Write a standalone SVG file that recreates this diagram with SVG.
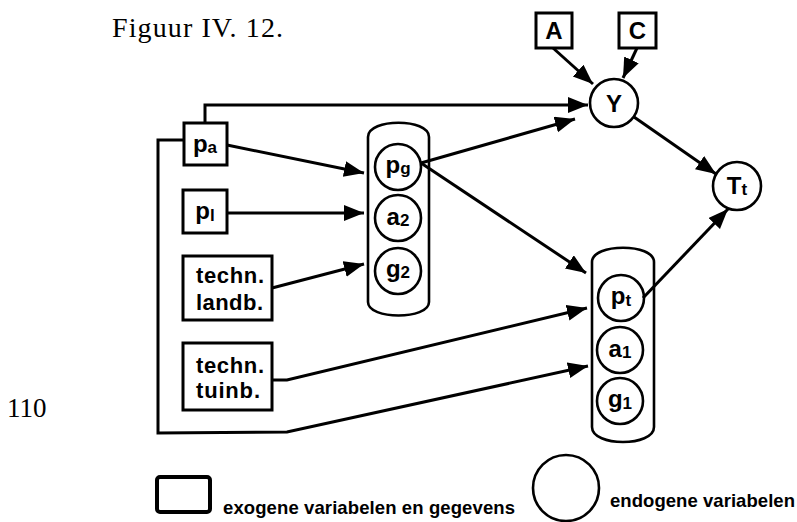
<svg xmlns="http://www.w3.org/2000/svg" width="797" height="522" viewBox="0 0 797 522">
<style>
.bx{fill:none;stroke:#000;stroke-width:3}
.ci{fill:none;stroke:#000;stroke-width:2.6}
.pill{fill:none;stroke:#000;stroke-width:2.6}
.ln{fill:none;stroke:#000;stroke-width:3;stroke-linejoin:miter}
.t{font-family:"Liberation Sans",Arial,sans-serif;font-weight:bold;fill:#000}
.lb{font-size:24px;text-anchor:middle}
.sub{font-size:17px}
.ser{font-family:"Liberation Serif","Times New Roman",serif;fill:#000}
</style>
<defs>
<marker id="ah" markerUnits="userSpaceOnUse" markerWidth="22" markerHeight="18" refX="20" refY="8" orient="auto">
<path d="M0,0 L20,8 L0,16 Z" fill="#000"/>
</marker>
</defs>
<rect width="797" height="522" fill="#fff"/>
<text class="ser" x="112" y="37" font-size="28" textLength="171">Figuur IV. 12.</text>
<text class="ser" x="7" y="417" font-size="27">110</text>

<g id="connectors">
<path class="ln" d="M205,123 L205,105 L588,105" marker-end="url(#ah)"/>
<path class="ln" d="M227,145 L364,173" marker-end="url(#ah)"/>
<path class="ln" d="M227,213 L364,213" marker-end="url(#ah)"/>
<path class="ln" d="M272,288 L364,264" marker-end="url(#ah)"/>
<path class="ln" d="M421,163 L575,119" marker-end="url(#ah)"/>
<path class="ln" d="M421,163 L586,273" marker-end="url(#ah)"/>
<path class="ln" d="M272,380 L287,380 L587,308" marker-end="url(#ah)"/>
<path class="ln" d="M184,140 L158,140 L158,433 L287,432 L588,366" marker-end="url(#ah)"/>
<path class="ln" d="M553,48 L593,84" marker-end="url(#ah)"/>
<path class="ln" d="M637,48 L623,78" marker-end="url(#ah)"/>
<path class="ln" d="M634,117 L716,174" marker-end="url(#ah)"/>
<path class="ln" d="M643,298 L728,209" marker-end="url(#ah)"/>
</g>

<g id="node-pa">
<rect class="bx" x="184" y="123" width="43" height="42"/>
<text class="t lb" x="205" y="152">p<tspan class="sub" dy="1">a</tspan></text>
</g>
<g id="node-pl">
<rect class="bx" x="183" y="190" width="44" height="43"/>
<text class="t lb" x="205" y="219">p<tspan class="sub" dy="2">l</tspan></text>
</g>
<g id="node-landb">
<rect class="bx" x="183" y="256" width="89" height="64"/>
<text class="t" x="196" y="283" font-size="22" textLength="68">techn.</text>
<text class="t" x="196" y="310" font-size="22" textLength="67">landb.</text>
</g>
<g id="node-tuinb">
<rect class="bx" x="183" y="343" width="89" height="67"/>
<text class="t" x="196" y="373" font-size="22" textLength="68">techn.</text>
<text class="t" x="196" y="398" font-size="22" textLength="64">tuinb.</text>
</g>
<g id="node-A">
<rect class="bx" x="536" y="13" width="36" height="35"/>
<text class="t lb" x="554" y="39" font-size="22">A</text>
</g>
<g id="node-C">
<rect class="bx" x="619" y="13" width="37" height="35"/>
<text class="t lb" x="637.5" y="39" font-size="22">C</text>
</g>

<g id="group-1">
<path class="pill" d="M368,137 C368,118 429,118 429,137 L429,302 C429,320 368,320 368,302 Z"/>
</g>
<g id="node-pg">
<circle class="ci" cx="398" cy="167" r="23"/>
<text class="t lb" x="398" y="173">p<tspan class="sub" dy="1">g</tspan></text>
</g>
<g id="node-a2">
<circle class="ci" cx="398" cy="218" r="23"/>
<text class="t lb" x="398" y="225">a<tspan class="sub" dy="1">2</tspan></text>
</g>
<g id="node-g2">
<circle class="ci" cx="398" cy="271" r="23"/>
<text class="t lb" x="398" y="277">g<tspan class="sub" dy="1">2</tspan></text>
</g>

<g id="group-2">
<path class="pill" d="M592,262 C592,243 654,243 654,262 L654,427 C654,447 592,447 592,427 Z"/>
</g>
<g id="node-pt">
<circle class="ci" cx="621" cy="298" r="23"/>
<text class="t lb" x="621" y="304">p<tspan class="sub" dy="2">t</tspan></text>
</g>
<g id="node-a1">
<circle class="ci" cx="620" cy="350" r="23"/>
<text class="t lb" x="620" y="357">a<tspan class="sub" dy="1">1</tspan></text>
</g>
<g id="node-g1">
<circle class="ci" cx="620" cy="401" r="23"/>
<text class="t lb" x="620" y="407">g<tspan class="sub" dy="2">1</tspan></text>
</g>

<g id="node-Y">
<circle class="ci" cx="614" cy="103" r="24"/>
<text class="t lb" x="614" y="112">Y</text>
</g>
<g id="node-Tt">
<circle class="ci" cx="737" cy="186" r="24"/>
<text class="t lb" x="737" y="194">T<tspan class="sub" dy="1">t</tspan></text>
</g>

<g id="legend">
<rect x="157" y="477" width="53" height="35" rx="3" fill="none" stroke="#000" stroke-width="4"/>
<text class="t" x="223" y="514" font-size="18.5" textLength="292">exogene variabelen en gegevens</text>
<circle class="ci" cx="566" cy="488" r="33"/>
<text class="t" x="610" y="507" font-size="18.5" textLength="185">endogene variabelen</text>
</g>
</svg>
